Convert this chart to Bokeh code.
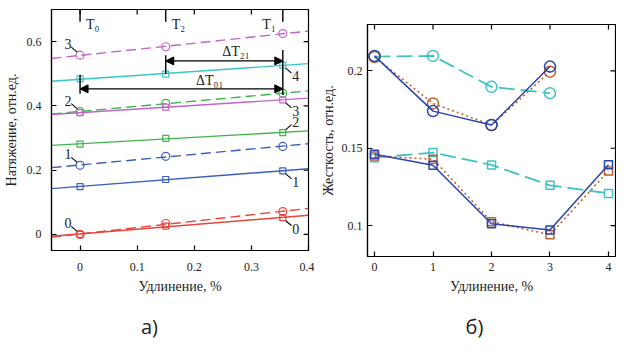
import numpy as np
from bokeh.plotting import figure
from bokeh.layouts import row, column
from bokeh.models import (Range1d, FixedTicker, CustomJSTickFormatter,
                          Label, Arrow, NormalHead)
from bokeh.core.properties import value
from bokeh.embed import file_html
from bokeh.resources import INLINE

# ---------------- data: panel a ----------------
a_x = [0.0, 0.15, 0.355]
a_red_sq = [0.0, 0.026, 0.052]
a_red_ci = [0.0, 0.034, 0.071]
a_blue_sq = [0.149, 0.171, 0.198]
a_blue_ci = [0.215, 0.243, 0.274]
a_green_sq = [0.281, 0.299, 0.317]
a_green_ci = [0.382, 0.408, 0.439]
a_mag_sq = [0.379, 0.396, 0.419]
a_mag_ci = [0.558, 0.584, 0.625]
a_cyan_sq = [0.484, 0.499, 0.527]
a_xticks = [0, 0.1, 0.2, 0.3, 0.4]
a_yticks = [0, 0.2, 0.4, 0.6]
t_pos = [0.0, 0.15, 0.355]
t_text = ["T\u2080", "T\u2082", "T\u2081"]

# ---------------- data: panel b ----------------
b_x_ci = [0, 1, 2, 3]
b_x_sq = [0, 1, 2, 3, 4]
b_blue_ci = [0.2097, 0.174, 0.165, 0.2028]
b_brown_ci = [0.209, 0.179, 0.165, 0.1995]
b_cyan_ci = [0.2092, 0.2097, 0.1897, 0.1856]
b_blue_sq = [0.1461, 0.139, 0.1012, 0.0971, 0.1394]
b_brown_sq = [0.1450, 0.1429, 0.1025, 0.0941, 0.1353]
b_cyan_sq = [0.1439, 0.1472, 0.1392, 0.1260, 0.1208]
b_xticks = [0, 1, 2, 3, 4]
b_yticks = [0.1, 0.15, 0.2]

panel_labels = ["а)", "б)"]
panel_label_x = [149, 474]

RED, BLUE, GREEN, MAG, CYAN = "#e8453c", "#3b5fc0", "#3cb54a", "#c265c8", "#3cc4c8"
B_BLUE, B_BROWN, B_CYAN = "#2a44b0", "#b8622e", "#40c2c4"
SERIF = "Liberation Serif"

fmt = CustomJSTickFormatter(code="return String(Math.round(tick*1000)/1000)")


def style(p, xticks, yticks, fw, fh, tick_len=5):
    p.outline_line_color = "black"
    p.outline_line_width = 1.2
    p.xgrid.grid_line_color = None
    p.ygrid.grid_line_color = None
    xa, ya = p.xaxis[0], p.yaxis[0]
    for ax, t in ((xa, xticks), (ya, yticks)):
        ax.ticker = FixedTicker(ticks=t)
        ax.formatter = fmt
        ax.major_tick_in = tick_len
        ax.major_tick_out = 0
        ax.minor_tick_line_color = None
        ax.axis_line_color = "black"
        ax.axis_line_width = 1.2
        ax.major_tick_line_width = 1.2
        ax.major_label_text_font = SERIF
        ax.major_label_text_font_size = "12px"
        ax.major_label_text_color = "#222"
        ax.axis_label_text_font = SERIF
        ax.axis_label_text_font_size = "14px"
        ax.axis_label_text_font_style = "normal"
        ax.axis_label_text_color = "#222"
    # mirrored inward ticks on the right and top edges
    x0, x1 = p.x_range.start, p.x_range.end
    y0, y1 = p.y_range.start, p.y_range.end
    dx = tick_len * (x1 - x0) / fw
    dy = tick_len * (y1 - y0) / fh
    p.segment(x0=[x1] * len(yticks), y0=yticks, x1=[x1 - dx] * len(yticks), y1=yticks,
              line_color="black", line_width=1.2)
    p.segment(x0=xticks, y0=[y1] * len(xticks), x1=xticks, y1=[y1 - dy] * len(xticks),
              line_color="black", line_width=1.2)
    return xa, ya


# ================= panel a =================
A_FW, A_FH = 264, 241
pa = figure(width=314, height=306, x_range=Range1d(-0.05, 0.4), y_range=Range1d(-0.05, 0.7),
            title=None, output_backend="svg", toolbar_location=None, frame_align=False,
            min_border_left=44, min_border_right=6, min_border_top=9, min_border_bottom=56)
xa, ya = style(pa, a_xticks, a_yticks, A_FW, A_FH)
xa.axis_label = "Удлинение, %"
ya.axis_label = "Натяжение, отн.ед."
xa.major_label_standoff = 12
xa.axis_label_standoff = 5
ya.major_label_standoff = 10
ya.axis_label_standoff = 5

xfit = np.array([-0.05, 0.4])
a_series = [
    (a_red_sq, RED, "solid", "square"),
    (a_red_ci, RED, "dashed", "circle"),
    (a_blue_sq, BLUE, "solid", "square"),
    (a_blue_ci, BLUE, "dashed", "circle"),
    (a_green_sq, GREEN, "solid", "square"),
    (a_green_ci, GREEN, "dashed", "circle"),
    (a_mag_sq, MAG, "solid", "square"),
    (a_mag_ci, MAG, "dashed", "circle"),
    (a_cyan_sq, CYAN, "solid", "square"),
]
for ys, col, dash, mk in a_series:
    k, b = np.polyfit(a_x, ys, 1)
    pa.line(xfit, k * xfit + b, line_color=col, line_width=1.4,
            line_dash="10 5" if dash == "dashed" else "solid")
    if mk == "square":
        pa.scatter(a_x, ys, marker="square", size=6, line_color=col, fill_color=None, line_width=1.2)
    else:
        pa.scatter(a_x, ys, marker="circle", size=8, line_color=col, fill_color=None, line_width=1.2)

# T markers at top
pa.segment(x0=t_pos, y0=[0.7] * 3, x1=t_pos, y1=[0.662] * 3, line_color="black", line_width=1.4)
for xt, tt, off, al in zip(t_pos, t_text, [6, 6, -7], ["left", "left", "right"]):
    pa.add_layout(Label(x=xt, y=0.7, x_offset=off, y_offset=-22, text=tt, text_font=SERIF,
                        text_font_size="14px", text_align=al, text_color="#222"))

# vertical marker lines and arrows
v_x = [0.0, 0.15, 0.355]
v_y0 = [0.438, 0.499, 0.434]
v_y1 = [0.497, 0.558, 0.574]
pa.segment(x0=v_x, y0=v_y0, x1=v_x, y1=v_y1, line_color="black", line_width=1.4)
arrows = [(0.15, 0.355, 0.540, "ΔT\u2082\u2081", 0.273, 0.568),
          (0.0, 0.355, 0.453, "ΔT\u2080\u2081", 0.227, 0.478)]
for x0, x1, y, txt, lx, ly in arrows:
    pa.add_layout(Arrow(start=NormalHead(size=8, fill_color="black", line_color="black"),
                        end=NormalHead(size=8, fill_color="black", line_color="black"),
                        x_start=x0, y_start=y, x_end=x1, y_end=y, line_color="black", line_width=1.4))
    pa.add_layout(Label(x=lx, y=ly, text=txt, text_font=SERIF, text_font_size="14px",
                        text_align="center", text_baseline="middle", text_color="#222"))

# curve number labels with leader lines
sx = A_FW / 0.45
sy = A_FH / 0.75
left_lab = [("0", a_red_ci[0]), ("1", a_blue_ci[0]), ("2", a_green_ci[0]), ("3", a_mag_ci[0])]
right_lab = [("0", a_red_sq[2], -1), ("1", a_blue_sq[2], -1), ("2", a_green_sq[2], 1),
             ("3", a_mag_sq[2], -1), ("4", a_cyan_sq[2], -1)]
for txt, yv in left_lab:
    pa.segment(x0=[a_x[0] - 3 / sx], y0=[yv + 3 / sy], x1=[a_x[0] - 9 / sx], y1=[yv + 8 / sy],
               line_color="black", line_width=1.1)
    pa.add_layout(Label(x=a_x[0], y=yv, x_offset=-12, y_offset=11, text=txt, text_font=SERIF,
                        text_font_size="14px", text_align="center", text_baseline="middle",
                        text_color="#222"))
for txt, yv, d in right_lab:
    pa.segment(x0=[a_x[2] + 3 / sx], y0=[yv + d * 3 / sy], x1=[a_x[2] + 9 / sx], y1=[yv + d * 8 / sy],
               line_color="black", line_width=1.1)
    pa.add_layout(Label(x=a_x[2], y=yv, x_offset=13, y_offset=d * 11, text=txt, text_font=SERIF,
                        text_font_size="14px", text_align="center", text_baseline="middle",
                        text_color="#222"))

# ================= panel b =================
B_FW, B_FH = 248, 232
pb = figure(width=302, height=306, x_range=Range1d(-0.12, 4.12), y_range=Range1d(0.08, 0.23),
            title=None, output_backend="svg", toolbar_location=None, frame_align=False,
            min_border_left=53, min_border_right=1, min_border_top=24, min_border_bottom=50)
xb, yb = style(pb, b_xticks, b_yticks, B_FW, B_FH)
xb.axis_label = "Удлинение, %"
yb.axis_label = "Жесткость, отн.ед."
xb.major_label_standoff = 6
xb.axis_label_standoff = 5
yb.major_label_standoff = 5
yb.axis_label_standoff = 3

b_series = [
    (b_x_ci, b_cyan_ci, B_CYAN, "16 6", 1.8, "circle", 11),
    (b_x_sq, b_cyan_sq, B_CYAN, "16 6", 1.8, "square", 8),
    (b_x_ci, b_brown_ci, B_BROWN, "2 3", 1.6, "circle", 11),
    (b_x_sq, b_brown_sq, B_BROWN, "2 3", 1.6, "square", 8),
    (b_x_ci, b_blue_ci, B_BLUE, "solid", 1.5, "circle", 11),
    (b_x_sq, b_blue_sq, B_BLUE, "solid", 1.5, "square", 8),
]
for xs, ys, col, dash, lw, mk, sz in b_series:
    pb.line(xs, ys, line_color=col, line_width=lw, line_dash=dash)
    pb.scatter(xs, ys, marker=mk, size=sz, line_color=col, fill_color=None, line_width=1.5)

# ================= panel captions =================
pc = figure(width=616, height=34, x_range=Range1d(0, 616), y_range=Range1d(0, 34),
            title=None, output_backend="svg", toolbar_location=None, min_border=0,
            frame_align=False)
pc.axis.visible = False
pc.grid.visible = False
pc.outline_line_color = None
pc.text(x=panel_label_x, y=[14, 14], text=panel_labels, text_font=value("Open Sans"),
        text_font_size="20px", text_align="center", text_baseline="middle", text_color="#222")

layout = column(row(pa, pb), pc)
open("out.html", "w").write(file_html(layout, INLINE))
